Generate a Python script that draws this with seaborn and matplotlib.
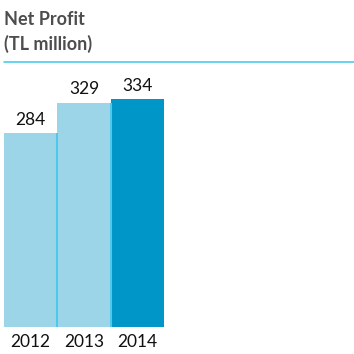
import matplotlib
matplotlib.use("Agg")
import matplotlib.pyplot as plt
import seaborn as sns
import pandas as pd
from matplotlib.lines import Line2D

years = ["2012", "2013", "2014"]
profit = [284, 329, 334]
bar_colors = ["#9dd5e8", "#9dd5e8", "#0096c8"]
title_lines = ["Net Profit", "(TL million)"]

sns.set_style("white")
plt.rcParams["font.family"] = ["Lato", "DejaVu Sans"]

df = pd.DataFrame({"year": years, "profit": profit})

fig = plt.figure(figsize=(3.54, 3.54), dpi=100)
W = H = 354.0
ax = fig.add_axes([4 / W, 27 / H, 160 / W, 265 / H])

sns.barplot(data=df, x="year", y="profit", hue="year", palette=bar_colors,
            width=1.0, legend=False, ax=ax, saturation=1, linewidth=0)

ax.set_ylim(0, 388.6)
ax.set_xlim(-0.5, 2.5)
for s in ax.spines.values():
    s.set_visible(False)
ax.set_yticks([])
ax.set_xlabel("")
ax.set_ylabel("")
ax.tick_params(axis="x", length=0, pad=5, labelsize=12.5, labelcolor="#111111")

# bottom baseline
ax.axhline(0, color="#d8eef6", lw=1.2, zorder=0)

# separators between bars
patches = sorted(ax.patches, key=lambda p: p.get_x())
for a, b in zip(patches[:-1], patches[1:]):
    xb = a.get_x() + a.get_width()
    ax.vlines(xb, 0, min(a.get_height(), b.get_height()), color="#4ec8ec", lw=1.5, zorder=5)

for c in ax.containers:
    ax.bar_label(c, labels=[f"{v:g}" for v in c.datavalues], padding=4,
                 fontsize=12.5, color="#111111")

fig.text(4 / W, 1 - 25 / H, title_lines[0], fontsize=13, fontweight="bold",
         color="#4d4d4f", va="baseline", ha="left")
fig.text(4 / W, 1 - 50 / H, title_lines[1], fontsize=13, fontweight="bold",
         color="#4d4d4f", va="baseline", ha="left")
fig.add_artist(Line2D([4 / W, 1], [1 - 62 / H, 1 - 62 / H], color="#3cc8e8", lw=1.1,
                      transform=fig.transFigure))

fig.savefig("out.png", dpi=100)
